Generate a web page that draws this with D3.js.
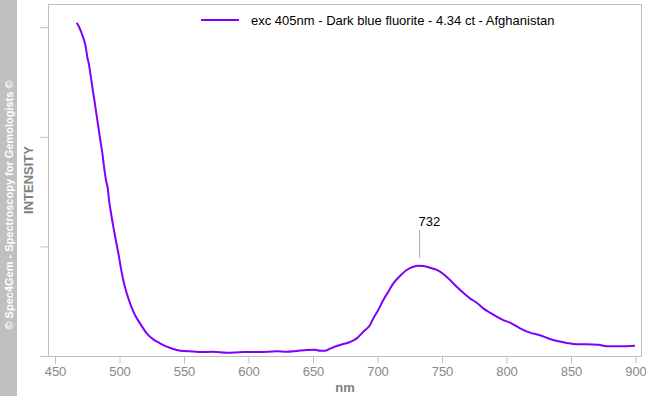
<!DOCTYPE html>
<html>
<head>
<meta charset="utf-8">
<script src="https://cdn.jsdelivr.net/npm/d3@7"></script>
<style>
  body { margin: 0; background: #fff; }
  svg text { font-family: "Liberation Sans", Arial, sans-serif; }
</style>
</head>
<body>
<div id="chart"></div>
<script>
// spectrum: wavelength (nm) and intensity (arbitrary units)
var wavelengths = [466.8, 468.6, 470.9, 472.5, 473.8, 475.0, 476.4, 477.4, 478.9, 480.5,
  482.0, 483.6, 485.1, 486.7, 488.0, 489.5, 490.9, 491.9, 493.4, 495.2,
  497.1, 499.1, 500.9, 502.9, 505.6, 508.7, 512.0, 515.9, 521.1, 526.2,
  531.4, 536.6, 544.3, 550.0, 557.2, 562.4, 572.7, 583.1, 596.0, 608.9,
  621.9, 629.6, 637.4, 645.1, 651.6, 655.4, 659.3, 663.2, 668.4, 673.5,
  678.7, 683.9, 689.0, 694.2, 696.8, 700.6, 704.5, 708.4, 712.3, 717.4,
  722.6, 727.8, 731.6, 735.5, 740.7, 745.9, 751.0, 756.2, 761.4, 766.5,
  771.7, 776.9, 782.0, 787.2, 792.4, 797.5, 802.7, 810.5, 818.2, 826.0,
  833.7, 840.2, 846.7, 854.4, 862.2, 871.2, 877.7, 888.0, 899.6];
var intensity = [3041, 3005, 2938, 2883, 2822, 2731, 2655, 2579, 2457, 2336,
  2217, 2092, 1971, 1852, 1727, 1606, 1530, 1423, 1305, 1180,
  1058, 940, 815, 693, 572, 465, 374, 298, 207, 152,
  116, 85, 55, 45, 42, 36, 39, 30, 36, 36,
  43, 39, 46, 55, 57, 48, 48, 67, 91, 109,
  128, 161, 222, 283, 344, 420, 511, 587, 663, 730,
  785, 815, 824, 821, 806, 785, 748, 693, 632, 577,
  526, 486, 435, 395, 359, 328, 304, 253, 213, 189,
  155, 134, 119, 107, 107, 103, 89, 89, 94];
var xTicks = [450, 500, 550, 600, 650, 700, 750, 800, 850, 900];
var yTicks = [0, 1000, 2000, 3000];
var peakNm = 732;
var peakValue = 824;
var seriesName = "exc 405nm - Dark blue fluorite - 4.34 ct - Afghanistan";

var W = 646, H = 396;
var frame = {left: 48.5, right: 641.5, top: 4.5, bottom: 356.5};

var svg = d3.select("#chart").append("svg")
  .attr("width", W).attr("height", H);

// copyright band on the left
svg.append("rect")
  .attr("x", 0).attr("y", 0).attr("width", 17).attr("height", H)
  .attr("fill", "#c0c0c0");
svg.append("text")
  .attr("transform", "translate(12.5,205) rotate(-90)")
  .attr("text-anchor", "middle")
  .style("font-size", "11px").style("font-weight", "bold")
  .attr("fill", "#fff")
  .text("© Spec4Gem - Spectroscopy for Gemologists ©");

var x = d3.scaleLinear().domain([450, 900]).range([55, 635.5]);
var y = d3.scaleLinear().domain([0, 3212]).range([356, 4]);

// plot frame
svg.append("rect")
  .attr("x", frame.left).attr("y", frame.top)
  .attr("width", frame.right - frame.left).attr("height", frame.bottom - frame.top)
  .attr("fill", "none").attr("stroke", "#c0c0c0");

// X axis
var xAxis = svg.append("g")
  .attr("transform", "translate(0," + frame.bottom + ")")
  .call(d3.axisBottom(x).tickValues(xTicks).tickSize(7).tickPadding(3).tickSizeOuter(0));
xAxis.select(".domain").remove();
xAxis.selectAll("line").attr("stroke", "#c0c0c0");
xAxis.selectAll("text")
  .style("font-size", "13px")
  .style("font-family", "'Liberation Sans', Arial, sans-serif")
  .attr("fill", "#888");

// Y axis, ticks only
var yAxis = svg.append("g")
  .attr("transform", "translate(" + frame.left + ",0)")
  .call(d3.axisLeft(y).tickValues(yTicks).tickSize(8).tickFormat("").tickSizeOuter(0));
yAxis.select(".domain").remove();
yAxis.selectAll("line").attr("stroke", "#c0c0c0");

// axis titles
svg.append("text")
  .attr("x", 345).attr("y", 392)
  .attr("text-anchor", "middle")
  .style("font-size", "13px").style("font-weight", "bold")
  .attr("fill", "#808080")
  .text("nm");
svg.append("text")
  .attr("transform", "translate(33,180) rotate(-90)")
  .attr("text-anchor", "middle")
  .style("font-size", "13px").style("font-weight", "bold")
  .attr("fill", "#808080")
  .text("INTENSITY");

// spectrum line
var data = wavelengths.map(function(d, i) { return {nm: d, v: intensity[i]}; });
var line = d3.line()
  .x(function(d) { return x(d.nm); })
  .y(function(d) { return y(d.v); })
  .curve(d3.curveMonotoneX);
svg.append("path")
  .datum(data)
  .attr("d", line)
  .attr("fill", "none")
  .attr("stroke", "#8000ff")
  .attr("stroke-width", 2);

// peak marker
var px = Math.round(x(peakNm)) + 0.5;
svg.append("line")
  .attr("x1", px).attr("x2", px)
  .attr("y1", y(peakValue) - 8).attr("y2", y(peakValue) - 36)
  .attr("stroke", "#b0b0b0");
svg.append("text")
  .attr("x", px - 1).attr("y", y(peakValue) - 40)
  .style("font-size", "13px")
  .attr("fill", "#000")
  .text(peakNm);

// legend
svg.append("line")
  .attr("x1", 201).attr("x2", 239).attr("y1", 20).attr("y2", 20)
  .attr("stroke", "#8000ff").attr("stroke-width", 2);
svg.append("text")
  .attr("x", 251).attr("y", 24.5)
  .style("font-size", "13px")
  .attr("fill", "#000")
  .text(seriesName);
</script>
</body>
</html>
